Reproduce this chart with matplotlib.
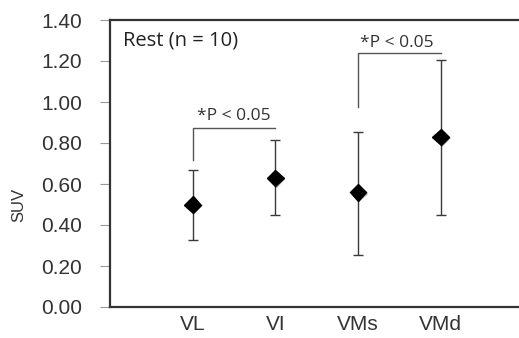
import matplotlib
matplotlib.use('Agg')
import matplotlib.pyplot as plt
import matplotlib.patheffects as pe

# data
groups = ['VL', 'VI', 'VMs', 'VMd']
means = [0.50, 0.63, 0.56, 0.83]
upper = [0.67, 0.815, 0.855, 1.205]
lower = [0.325, 0.45, 0.255, 0.45]
y_ticks = [0.0, 0.2, 0.4, 0.6, 0.8, 1.0, 1.2, 1.4]
title_text = 'Rest (n = 10)'
sig_text = '*P < 0.05'

x = list(range(1, len(groups) + 1))
err_lo = [m - l for m, l in zip(means, lower)]
err_hi = [u - m for m, u in zip(means, upper)]

plt.rcParams['font.family'] = ['Liberation Sans', 'DejaVu Sans']

fig = plt.figure(figsize=(5.19, 3.38), dpi=100)
ax = fig.add_axes([110 / 519, 31 / 338, 409 / 519, 287 / 338])

ax.errorbar(x, means, yerr=[err_lo, err_hi], fmt='none', ecolor='#3a3a3a',
            elinewidth=1.0, capsize=3.5, capthick=1.0, zorder=2)
ax.plot(x, means, linestyle='none', marker='D', markersize=8.5, color='black', zorder=3,
        path_effects=[pe.SimplePatchShadow(offset=(1, -1), alpha=0.35), pe.Normal()])

# brackets
ax.plot([1, 1, 2], [0.717, 0.873, 0.873], color='#555555', lw=1.0)
ax.plot([3, 3, 4], [0.977, 1.237, 1.237], color='#555555', lw=1.0)
ax.text(1.5, 0.93, sig_text, ha='center', va='center', fontsize=12.5,
        color='#333333', family=['Open Sans', 'DejaVu Sans'])
ax.text(3.47, 1.29, sig_text, ha='center', va='center', fontsize=12.5,
        color='#333333', family=['Open Sans', 'DejaVu Sans'])
ax.text(0.16, 1.30, title_text, ha='left', va='center', fontsize=14.5,
        color='#222222', family=['Open Sans', 'DejaVu Sans'])

ax.set_xlim(0, 409 / 82.7)
ax.set_ylim(0, 1.4)
ax.set_yticks(y_ticks)
ax.set_yticklabels(['%.2f' % v for v in y_ticks], fontsize=15, color='#333333')
ax.set_xticks(x)
ax.set_xticklabels(groups, fontsize=15, color='#333333')
ax.tick_params(axis='y', direction='out', length=7, width=0.8, color='#999999', pad=13)
ax.tick_params(axis='x', length=0, pad=6)
ax.set_ylabel('SUV', fontsize=12, color='#333333')
ax.yaxis.set_label_coords(-0.205, 0.355)

for side in ['left', 'top', 'bottom']:
    ax.spines[side].set_color('#333333')
    ax.spines[side].set_linewidth(1.6)
ax.spines['right'].set_visible(False)

fig.savefig('out.png', dpi=100)
